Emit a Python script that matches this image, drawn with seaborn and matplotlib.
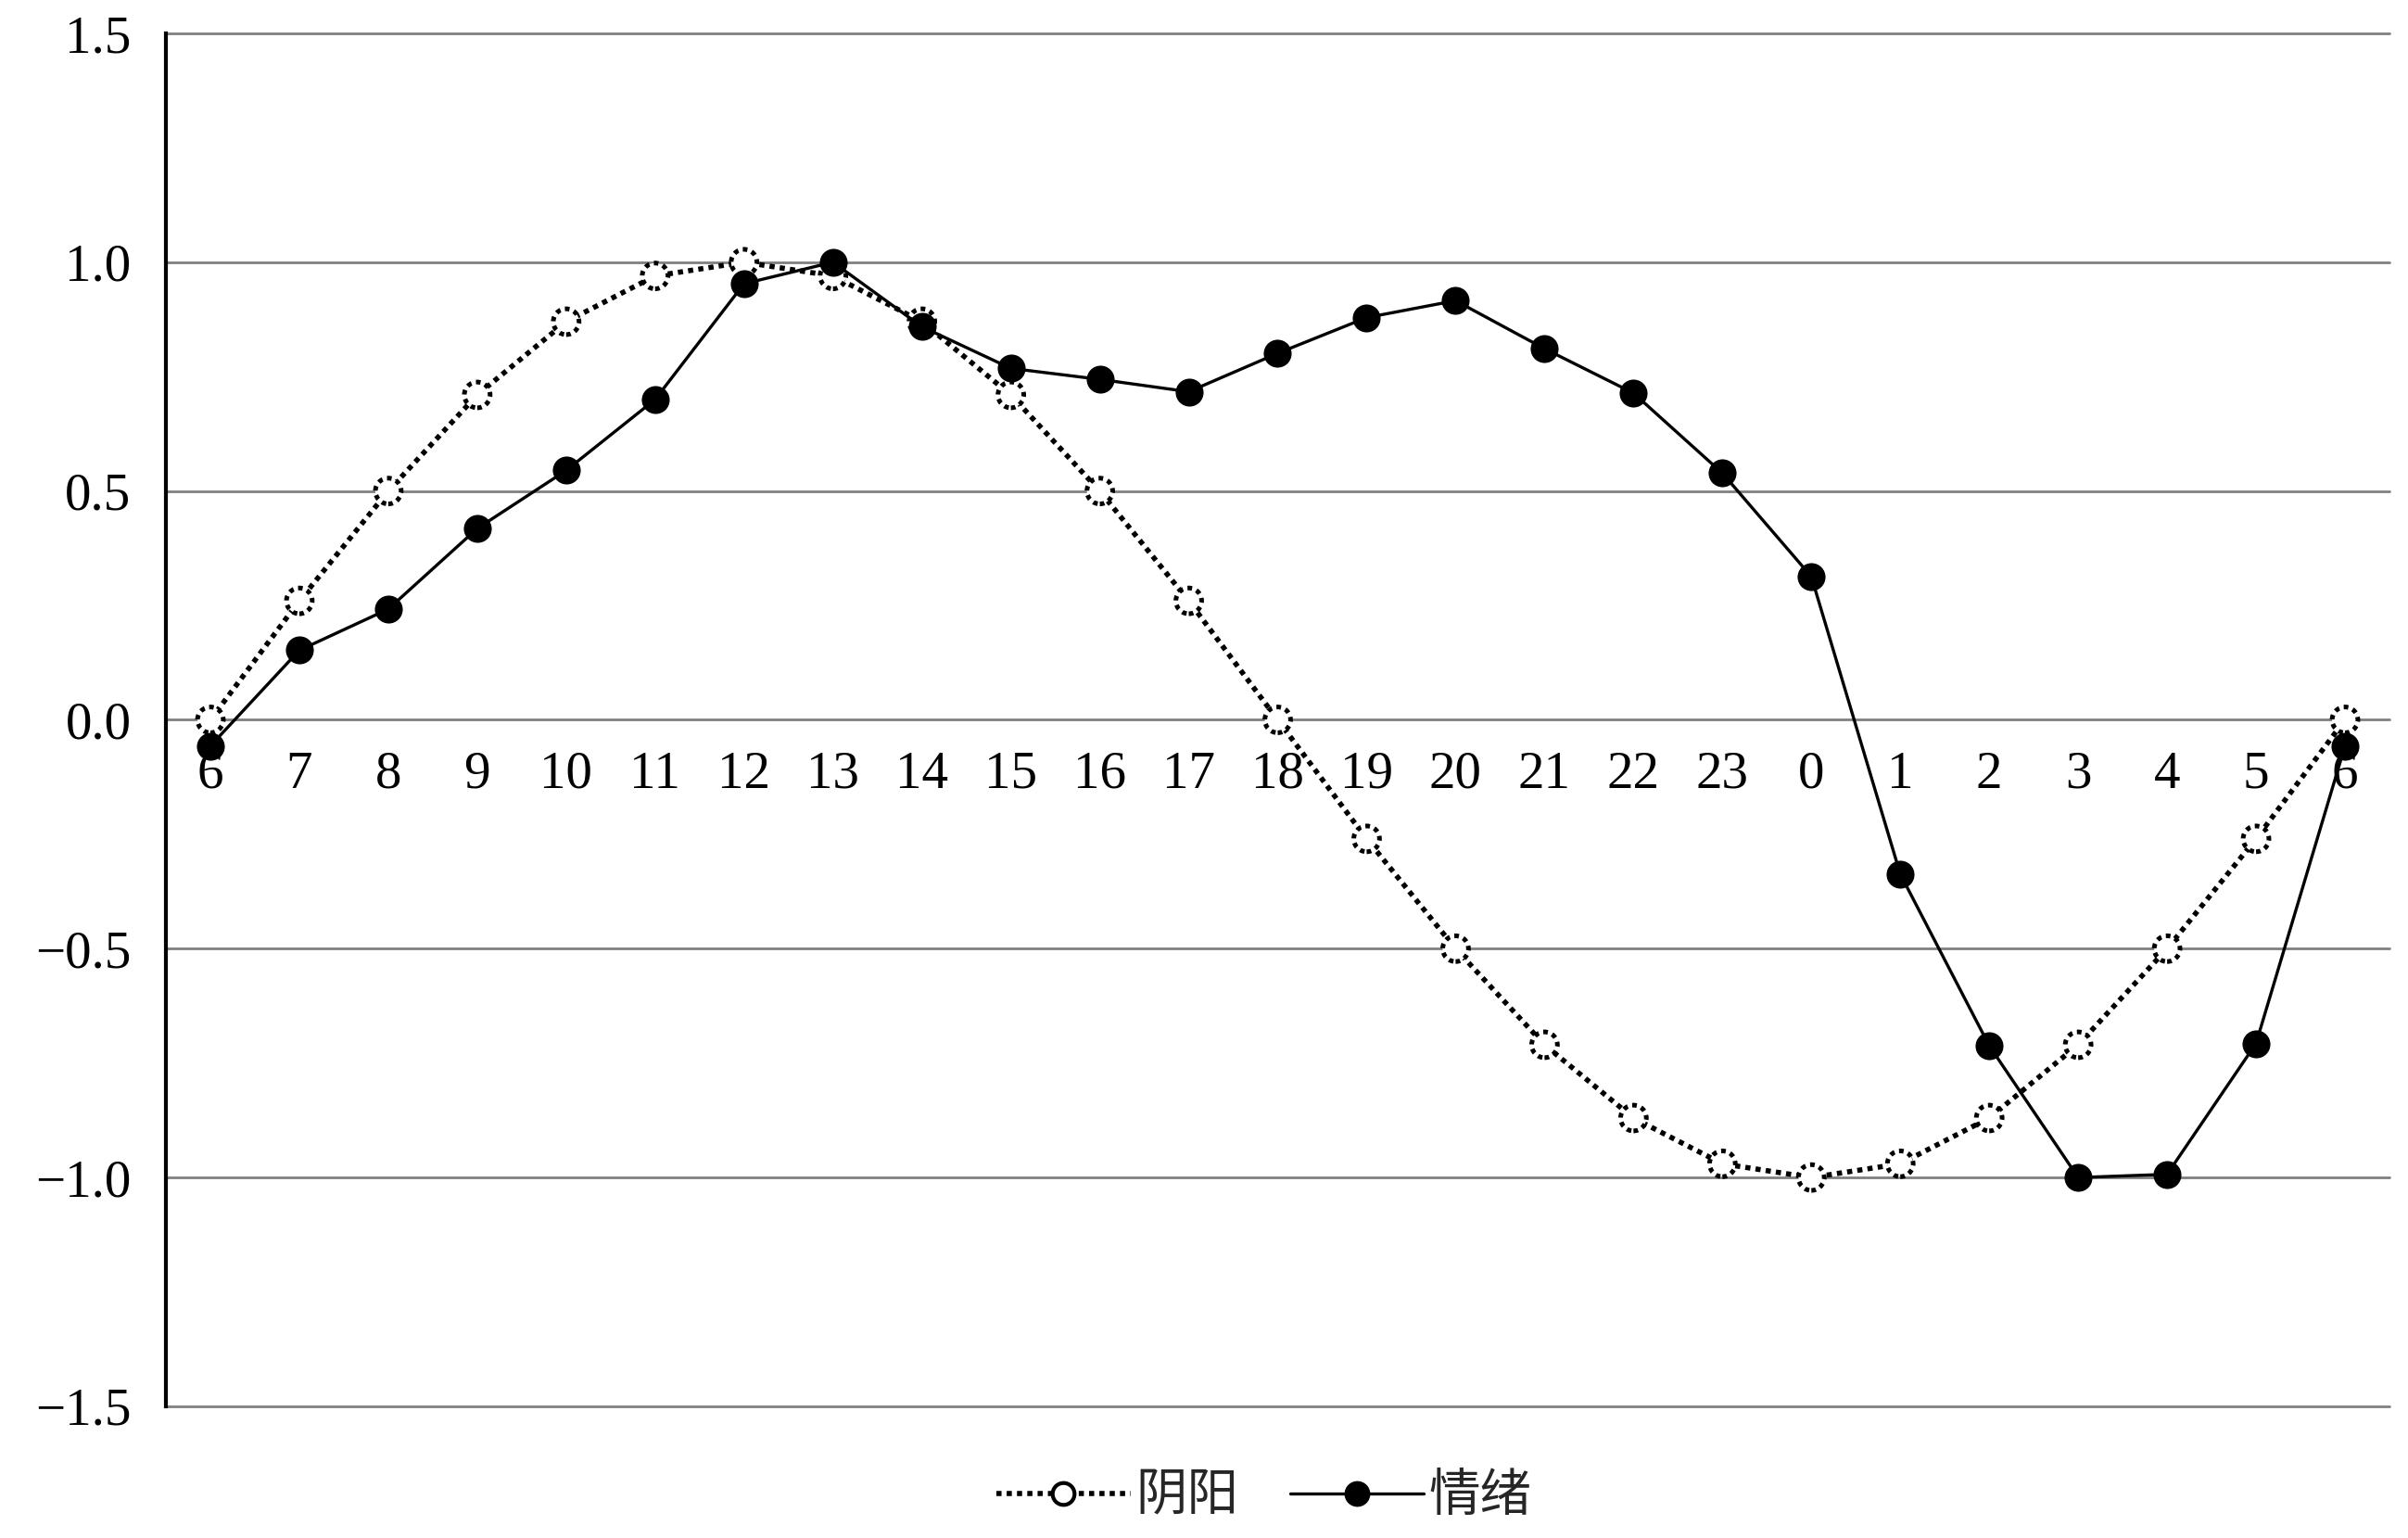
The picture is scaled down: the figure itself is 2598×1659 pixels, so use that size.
import matplotlib
matplotlib.use("Agg")
import matplotlib.pyplot as plt
from matplotlib.lines import Line2D
import seaborn as sns
import pandas as pd

hours = ["6", "7", "8", "9", "10", "11", "12", "13", "14", "15", "16", "17", "18",
         "19", "20", "21", "22", "23", "0", "1", "2", "3", "4", "5", "6"]
yinyang = [0.0, 0.26, 0.5, 0.71, 0.87, 0.97, 1.0, 0.97, 0.87, 0.71, 0.5, 0.26, 0.0,
           -0.26, -0.5, -0.71, -0.87, -0.97, -1.0, -0.97, -0.87, -0.71, -0.5, -0.26, 0.0]
emotion = [-0.057, 0.152, 0.242, 0.418, 0.545, 0.70, 0.953, 1.0, 0.859, 0.768, 0.744, 0.717,
           0.801, 0.879, 0.916, 0.811, 0.714, 0.539, 0.313, -0.337, -0.712, -1.0, -0.993,
           -0.707, -0.057]
ytick_vals = [-1.5, -1.0, -0.5, 0.0, 0.5, 1.0, 1.5]
ytick_labels = ["\u22121.5", "\u22121.0", "\u22120.5", "0.0", "0.5", "1.0", "1.5"]
series_names = ["阴阳", "情绪"]

df = pd.DataFrame({"x": list(range(len(hours))), "yinyang": yinyang, "emotion": emotion})

sns.set_style("white")
plt.rcParams["font.family"] = ["Liberation Serif", "Noto Sans CJK SC"]

fig = plt.figure(figsize=(25.98, 16.59), dpi=100)
ax = fig.add_axes([0.0689, 0.0856, 0.9234, 0.8927])

# grid
for v in ytick_vals:
    ax.axhline(v, color="#808080", lw=2.0, zorder=0, clip_on=False)

# yinyang: dotted line, open markers with dotted edge
sns.lineplot(data=df, x="x", y="yinyang", ax=ax, color="black", lw=4.0,
             linestyle=(0, (1, 1)), zorder=2)
ax.scatter(df["x"], df["yinyang"], s=400, facecolor="white", edgecolor="black",
           linewidths=3.6, linestyle=(0, (1, 1)), zorder=3)

# emotion: solid line, filled markers
sns.lineplot(data=df, x="x", y="emotion", ax=ax, color="black", lw=2.4, zorder=4)
sns.scatterplot(data=df, x="x", y="emotion", ax=ax, s=470, color="black",
                edgecolor="black", linewidth=0, zorder=5)

ax.set_xlim(-0.5, len(hours) - 0.5)
ax.set_ylim(-1.5, 1.5)
ax.set_yticks(ytick_vals)
ax.set_yticklabels(ytick_labels)
ax.set_xticks(list(range(len(hours))))
ax.set_xticklabels(hours)
ax.set_xlabel("")
ax.set_ylabel("")

ax.spines["bottom"].set_position(("data", 0))
ax.spines["bottom"].set_visible(False)
ax.spines["top"].set_visible(False)
ax.spines["right"].set_visible(False)
ax.spines["left"].set_color("black")
ax.spines["left"].set_linewidth(3.0)
ax.tick_params(axis="both", length=0, labelsize=41, colors="black")
ax.tick_params(axis="y", pad=27)
ax.tick_params(axis="x", pad=24)

handles = [
    Line2D([0], [0], color="black", lw=4.0, linestyle=(0, (1, 1)), marker="o",
           markersize=17, markerfacecolor="white", markeredgecolor="black", markeredgewidth=3),
    Line2D([0], [0], color="black", lw=2.4, marker="o", markersize=19,
           markerfacecolor="black", markeredgecolor="black"),
]
fig.legend(handles, series_names, loc="center", bbox_to_anchor=(0.525, 0.027), ncol=2,
           frameon=False, handlelength=2.6, handletextpad=0.1, columnspacing=1.0,
           prop={"family": ["Noto Sans CJK SC"], "size": 40})

fig.savefig("out.png", dpi=100, facecolor="white")
